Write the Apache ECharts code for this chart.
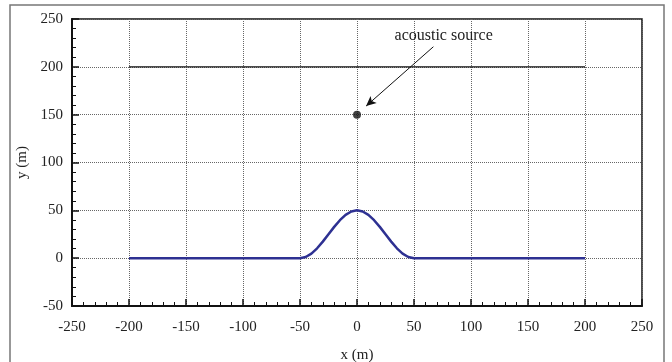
<!DOCTYPE html>
<html>
<head>
<meta charset="utf-8">
<script src="https://cdn.jsdelivr.net/npm/echarts@6/dist/echarts.min.js"></script>
<style>
  html, body { margin: 0; padding: 0; background: #fff; }
  #chart { width: 672px; height: 362px; }
</style>
</head>
<body>
<div id="chart"></div>
<script>
// bottom profile (x, y) in metres
const profileX = [-200, -50, -45, -40, -35, -30, -25, -20, -15, -10, -5, 0, 5, 10, 15, 20, 25, 30, 35, 40, 45, 50, 200];
const profileY = [0, 0, 1.2, 4.8, 10.3, 17.3, 25, 32.7, 39.7, 45.2, 48.8, 50, 48.8, 45.2, 39.7, 32.7, 25, 17.3, 10.3, 4.8, 1.2, 0, 0];

// surface line
const surfaceX = [-200, 200];
const surfaceY = [200, 200];

// acoustic source
const sourcePoint = [0, 150];
const sourceLabel = "acoustic source";

const font = "Liberation Serif";
const chart = echarts.init(document.getElementById("chart"));

const zip = (xs, ys) => xs.map((x, i) => [x, ys[i]]);

chart.setOption({
  animation: false,
  graphic: [
    {
      type: "rect",
      shape: { x: 10, y: 5, width: 654, height: 370 },
      style: { fill: "none", stroke: "#777", lineWidth: 1.5 },
      silent: true,
    },
  ],
  grid: {
    left: 72,
    right: 30,
    top: 19,
    bottom: 56,
    outerBoundsMode: "none",
    show: true,
    borderColor: "#111",
    borderWidth: 1.5,
    backgroundColor: "transparent",
  },
  xAxis: {
    type: "value",
    min: -250,
    max: 250,
    interval: 50,
    name: "x (m)",
    nameLocation: "middle",
    nameGap: 42,
    nameTextStyle: { fontFamily: font, fontSize: 15, color: "#222" },
    axisLine: { onZero: false, lineStyle: { color: "#111", width: 2 } },
    axisTick: { inside: true, length: 7, lineStyle: { color: "#111", width: 1.5 } },
    minorTick: { show: true, splitNumber: 5, length: 4, lineStyle: { color: "#111", width: 1 } },
    axisLabel: { fontFamily: font, fontSize: 15, color: "#222", margin: 14 },
    splitLine: { show: true, lineStyle: { color: "#666", type: "dotted", width: 1 } },
  },
  yAxis: {
    type: "value",
    min: -50,
    max: 250,
    interval: 50,
    name: "y (m)",
    nameLocation: "middle",
    nameGap: 42,
    nameTextStyle: { fontFamily: font, fontSize: 15, color: "#222" },
    axisLine: { onZero: false, lineStyle: { color: "#111", width: 2 } },
    axisTick: { inside: true, length: 7, lineStyle: { color: "#111", width: 1.5 } },
    minorTick: { show: true, splitNumber: 5, length: 4, lineStyle: { color: "#111", width: 1 } },
    axisLabel: { fontFamily: font, fontSize: 15, color: "#222", margin: 9 },
    splitLine: { show: true, lineStyle: { color: "#666", type: "dotted", width: 1 } },
  },
  series: [
    {
      name: "surface",
      type: "line",
      data: zip(surfaceX, surfaceY),
      symbol: "none",
      lineStyle: { color: "#111", width: 1.2 },
    },
    {
      name: "bottom",
      type: "line",
      data: zip(profileX, profileY),
      symbol: "none",
      smooth: false,
      lineStyle: { color: "#2e3192", width: 2.5 },
    },
    {
      name: "source",
      type: "scatter",
      data: [sourcePoint],
      symbolSize: 8,
      itemStyle: { color: "#111" },
      markLine: {
        silent: true,
        symbolSize: [7, 10],
        lineStyle: { color: "#111", width: 1, type: "solid" },
        label: { show: false },
        data: [[
          { coord: [67, 221], symbol: "none" },
          { coord: [8, 159], symbol: "arrow" },
        ]],
      },
      markPoint: {
        symbol: "rect",
        symbolSize: 0,
        silent: true,
        label: {
          show: true,
          formatter: sourceLabel,
          fontFamily: font,
          fontSize: 16,
          color: "#222",
        },
        data: [{ coord: [76, 232] }],
      },
    },
  ],
});
</script>
</body>
</html>
